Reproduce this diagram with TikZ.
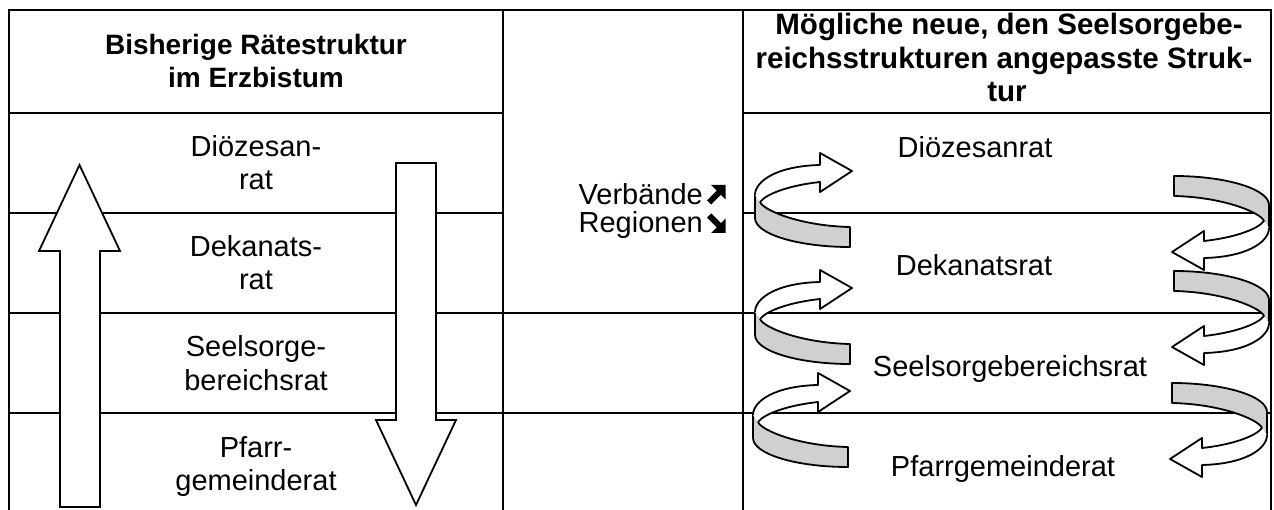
\documentclass[tikz,border=0pt]{standalone}
\usepackage{fontspec}
\setmainfont{Liberation Sans}
\definecolor{band}{RGB}{208,208,208}
\tikzset{
  grid/.style={line width=2.4pt, line cap=rect},
  bigarrow/.style={draw=black, fill=white, line width=1.8pt, line join=miter},
  outl/.style={draw=black, line width=1.8pt, line join=round},
  lbl/.style={anchor=base, inner sep=0pt, font=\fontsize{29}{33}\selectfont},
  hdr/.style={anchor=base, inner sep=0pt, font=\fontsize{28}{33}\selectfont\bfseries},
  hdrr/.style={anchor=base, inner sep=0pt, font=\fontsize{29.5}{33}\selectfont\bfseries},
  carrow/.pic={
    \fill[band] (-97,24) -- (-97,47) .. controls (-97,63) and (-54,76) .. (-2,76)
       -- (-2,56) .. controls (-50,55) and (-88,40) .. (-92,31) -- cycle;
    \draw[outl] (-97,24) -- (-97,47) .. controls (-97,63) and (-54,76) .. (-2,76)
       -- (-2,56) .. controls (-50,55) and (-88,40) .. (-92,31);
    \fill[white] (-97,24) .. controls (-97,10) and (-75,-5) .. (-32,-6) -- (-32,-18)
       -- (0,0) -- (-32,21) -- (-32,11) .. controls (-60,14) and (-85,22) .. (-92,31) -- cycle;
    \draw[outl] (-97,24) .. controls (-97,10) and (-75,-5) .. (-32,-6) -- (-32,-18)
       -- (0,0) -- (-32,21) -- (-32,11) .. controls (-60,14) and (-85,22) .. (-92,31);
  }
}
\begin{document}
\begin{tikzpicture}[x=1pt,y=-1pt]
\useasboundingbox (0,0) rectangle (1274,510);
% table
\draw[grid] (9,10) -- (1271,10);
\draw[grid] (9,10) -- (9,512);
\draw[grid] (503,10) -- (503,512);
\draw[grid] (743,10) -- (743,512);
\draw[grid] (1271,10) -- (1271,512);
\draw[grid] (9,113) -- (503,113);
\draw[grid] (743,113) -- (1271,113);
\draw[grid] (9,213) -- (503,213);
\draw[grid] (743,213) -- (1271,213);
\draw[grid] (9,313) -- (1271,313);
\draw[grid] (9,413) -- (1271,413);
% big arrows
\draw[bigarrow] (60,507) -- (60,251) -- (39,251) -- (79.5,165) -- (120,251) -- (100,251) -- (100,507) -- cycle;
\draw[bigarrow] (396,163) -- (436,163) -- (436,420) -- (456,420) -- (416,505) -- (376,420) -- (396,420) -- cycle;
% curved arrows
\pic at (852,171) {carrow};
\pic at (852,288) {carrow};
\pic at (850,391) {carrow};
\pic[rotate=180] at (1172,252) {carrow};
\pic[rotate=180] at (1172,347) {carrow};
\pic[rotate=180] at (1170,459) {carrow};
% headers
\node[hdr] (h1a) at (256,55) {Bisherige Rätestruktur};
\node[hdr] (h1b) at (256,88) {im Erzbistum};
\node[hdrr] (h3a) at (1009,35) {Mögliche neue, den Seelsorgebe-};
\node[hdrr] (h3b) at (1004,68.5) {reichsstrukturen angepasste Struk-};
\node[hdrr] (h3c) at (1007,102) {tur};
% left labels
\node[lbl] (l1a) at (256,157) {Diözesan-};
\node[lbl] (l1b) at (256,190) {rat};
\node[lbl] (l2a) at (256,257) {Dekanats-};
\node[lbl] (l2b) at (256,290) {rat};
\node[lbl] (l3a) at (256,357) {Seelsorge-};
\node[lbl] (l3b) at (256,390) {bereichsrat};
\node[lbl] (l4a) at (256,457) {Pfarr-};
\node[lbl] (l4b) at (256,490) {gemeinderat};
% middle
\node[lbl, anchor=base east] (m1) at (703,205) {Verbände};
\node[lbl, anchor=base east] (m2) at (703,233) {Regionen};
\fill (711,185) -- (725.5,185) -- (725.5,199.5) -- cycle;
\draw[line width=6pt] (709,202.5) -- (720,191.5);
\fill (711,233) -- (725.5,233) -- (725.5,218.5) -- cycle;
\draw[line width=6pt] (709,215.5) -- (720,226.5);
% right labels
\node[lbl] (r1) at (975,158) {Diözesanrat};
\node[lbl] (r2) at (974,276) {Dekanatsrat};
\node[lbl] (r3) at (1010,377) {Seelsorgebereichsrat};
\node[lbl] (r4) at (1003,476) {Pfarrgemeinderat};
\end{tikzpicture}
\end{document}
